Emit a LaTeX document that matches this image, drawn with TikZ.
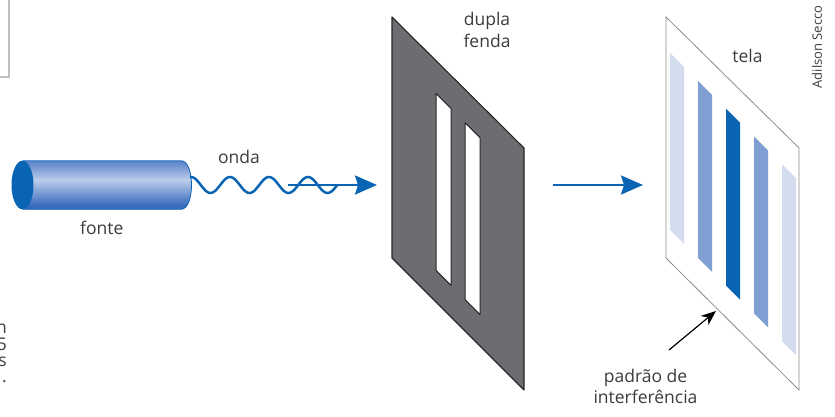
\documentclass[tikz,border=0pt]{standalone}
\usepackage{fontspec}
\setmainfont{Open Sans}
\usetikzlibrary{arrows.meta}

\definecolor{azul}{RGB}{10,100,180}
\definecolor{azulmedio}{RGB}{127,159,210}
\definecolor{azulclaro}{RGB}{212,221,239}
\definecolor{azulcorpo}{RGB}{58,108,190}
\definecolor{azulbrilho}{RGB}{188,204,235}
\definecolor{cinzaplaca}{RGB}{108,109,113}
\definecolor{texto}{RGB}{60,60,60}

\tikzset{
  rotulo/.style={font=\fontsize{17.5}{21.7}\selectfont, text=texto, align=center, inner sep=0pt},
  seta/.style={azul, line width=2.6pt, -{Stealth[length=22pt, width=19pt, inset=3pt]}},
  onda/.style={azul, line width=2.5pt},
  placa/.style={fill=cinzaplaca, draw=black!85, line width=1.1pt, line join=round},
  fenda/.style={fill=white, draw=black!85, line width=1pt, line join=round},
  tela/.style={fill=white, draw=black!45, line width=0.8pt},
}

\begin{document}
\begin{tikzpicture}[x=1pt, y=-1pt]

        \clip (0,0) rectangle (835,417);
        \fill[white] (0,0) rectangle (835,417);

        % restos da página ao lado
        \draw[black!25, line width=1.5pt] (0,77) -- (9,77) -- (9,-2);
        \node[rotulo, font=\fontsize{17.5}{16.4}\selectfont, align=right, anchor=north east]
            (resto) at (7,324) {n\\5\\s\\.};

        % fonte (cilindro)
        \begin{scope}
            \clip (22.5,160.7) -- (181,160.7) .. controls (195,160.7) and (195,209.3) .. (181,209.3)
                -- (22.5,209.3) -- cycle;
            \foreach \k in {0,...,49} {
                \pgfmathsetmacro\p{max(0,100-100*abs(\k-19)/25)}
                \fill[azulbrilho!\p!azulcorpo] (20,160.7+\k) rectangle (200,161.9+\k);
            }
        \end{scope}
        \draw[azul, line width=0.8pt]
            (22.5,160.7) -- (181,160.7) .. controls (195,160.7) and (195,209.3) .. (181,209.3)
            -- (22.5,209.3);
        \fill[azul] (22.5,185) ellipse [x radius=11, y radius=24.3];

        % onda
        \draw[onda] plot[domain=190:337, samples=150, smooth]
            (\x, {185-8*cos(9.2308*(\x-230))});

        % setas azuis
        \coordinate (ini1) at (288,185);
        \coordinate (fim1) at (377,185);
        \draw[seta] (ini1) -- (fim1);

        \coordinate (ini2) at (553,185);
        \coordinate (fim2) at (643,185);
        \draw[seta] (ini2) -- (fim2);

        % placa com as fendas
        \draw[placa] (392,17) -- (524,148) -- (524,390) -- (392,258) -- cycle;
        \foreach \x/\y in {436/93.3, 465/122.7}
            \draw[fenda] (\x,\y) -- ++(15,15) -- ++(0,177) -- ++(-15,-15) -- cycle;

        % tela e franjas
        \draw[tela] (666,17) -- (799,148) -- (799,390) -- (666,258) -- cycle;
        \foreach \i/\cor in {0/azulclaro, 1/azulmedio, 2/azul, 3/azulmedio, 4/azulclaro}
            \fill[\cor] ({670+28*\i},{53+27.8*\i}) -- ++(14,14) -- ++(0,177) -- ++(-14,-14) -- cycle;

        % rótulos
        \node[rotulo, anchor=base] (onda) at (239,163.3) {onda};
        \node[rotulo, anchor=base] (fonte) at (101.7,234) {fonte};
        \node[rotulo] (dupla) at (487,30.2) {dupla\\fenda};
        \node[rotulo, anchor=base] (tela) at (747.5,62.7) {tela};
        \node[rotulo] (padrao) at (645.5,386.3) {padrão de\\interferência};
        \node[font=\fontsize{13}{15}\selectfont, text=texto, rotate=90, inner sep=0pt]
            (credito) at (817,47) {Adilson Secco};

        % seta preta
        \coordinate (ini3) at (669,350);
        \coordinate (fim3) at (716,311);
        \draw[line width=1.2pt, -{Stealth[length=15pt, width=12pt]}] (ini3) -- (fim3);

    \end{tikzpicture}
\end{document}
